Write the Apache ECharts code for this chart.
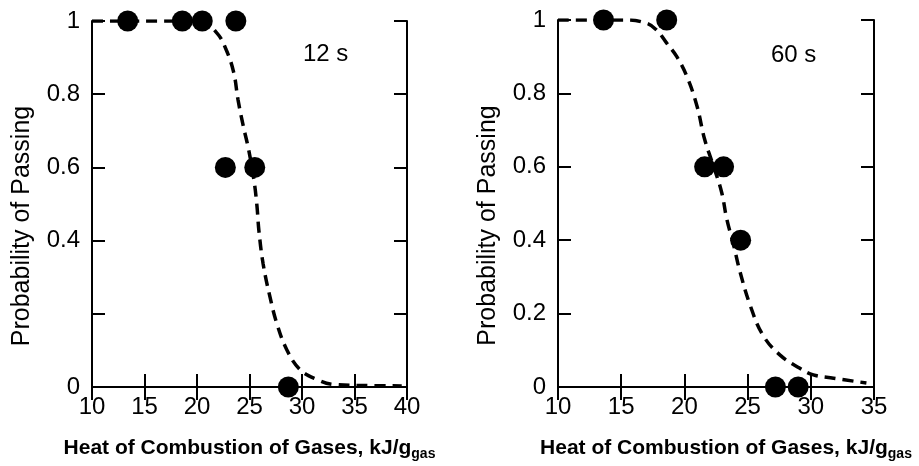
<!DOCTYPE html>
<html>
<head>
<meta charset="utf-8">
<script src="https://cdn.jsdelivr.net/npm/echarts@6/dist/echarts.min.js"></script>
<style>
  html, body { margin: 0; padding: 0; background: #fff; }
  #chart { width: 919px; height: 466px; }
</style>
</head>
<body>
<div id="chart"></div>
<script>
// 12 s exposure: measured points [heat of combustion, probability]
const points12 = [[13.4, 1], [18.6, 1], [20.5, 1], [23.7, 1], [22.7, 0.6], [25.5, 0.6], [28.7, 0]];
// 12 s fitted curve
const curve12 = [
  [10, 1], [15, 1], [20.3, 1], [21.9, 0.967], [22.8, 0.92], [23.5, 0.859], [23.9, 0.786],
  [24.4, 0.714], [24.9, 0.651], [25.4, 0.57], [25.7, 0.498], [25.9, 0.426], [26.3, 0.336],
  [26.95, 0.246], [27.6, 0.174], [28.55, 0.102], [29.8, 0.048], [31.4, 0.021], [33.0, 0.007],
  [36, 0.004], [39.5, 0.003]
];
// 60 s exposure
const points60 = [[13.6, 1], [18.6, 1], [21.6, 0.6], [23.1, 0.6], [24.45, 0.4], [27.2, 0], [29.0, 0]];
const curve60 = [
  [10, 1], [15.4, 1], [17.0, 0.991], [17.8, 0.973], [18.6, 0.937], [19.4, 0.9], [20.2, 0.846],
  [21.0, 0.765], [21.6, 0.675], [22.3, 0.602], [22.95, 0.53], [23.35, 0.458], [23.9, 0.386],
  [24.4, 0.314], [25.2, 0.223], [26.2, 0.142], [27.55, 0.0875], [29.1, 0.0515], [30.2, 0.033],
  [31.8, 0.024], [34.4, 0.011]
];
const panelLabels = ['12 s', '60 s'];
const xRanges = [[10, 40], [10, 35]];
const yTicks12 = ['0', '', '0.4', '0.6', '0.8', '1'];
const yTicks60 = ['0', '0.2', '0.4', '0.6', '0.8', '1'];
const yTitle = 'Probability of Passing';
const xTitleMain = 'Heat of Combustion of Gases, kJ/g';
const xTitleSub = 'gas';

const FONT = '"Liberation Sans", Arial, Helvetica, sans-serif';
const lineStyle = { color: '#000', width: 2 };
const tickStyle = { show: true, inside: true, length: 13, lineStyle: { color: '#000', width: 2 } };

function xAxes(gi, range, shift) {
  return [
    {
      type: 'value', gridIndex: gi, min: range[0], max: range[1], interval: 5,
      axisLine: { show: true, lineStyle }, axisTick: tickStyle, splitLine: { show: false },
      axisLabel: { color: '#000', fontFamily: FONT, fontSize: 24, margin: 8 },
      name: '{a|' + xTitleMain + '}{b|' + xTitleSub + '}',
      nameLocation: 'middle', nameGap: 48,
      nameTextStyle: {
        padding: [0, 0, 0, shift],
        rich: {
          a: { fontFamily: FONT, fontWeight: 'bold', fontSize: 21, color: '#000', lineHeight: 26 },
          b: { fontFamily: FONT, fontWeight: 'bold', fontSize: 14, color: '#000', lineHeight: 14, padding: [12, 0, 0, 0] }
        }
      }
    },
    {
      type: 'value', gridIndex: gi, position: 'top', min: range[0], max: range[1], interval: 5,
      axisLine: { show: true, lineStyle }, axisTick: tickStyle, splitLine: { show: false },
      axisLabel: { show: false }
    }
  ];
}

function yAxes(gi, labels) {
  return [
    {
      type: 'value', gridIndex: gi, min: 0, max: 1, interval: 0.2,
      axisLine: { show: true, lineStyle }, axisTick: tickStyle, splitLine: { show: false },
      axisLabel: {
        color: '#000', fontFamily: FONT, fontSize: 24, margin: 12,
        formatter: (v) => labels[Math.round(v * 5)]
      },
      name: yTitle, nameLocation: 'middle', nameGap: 57,
      nameTextStyle: { fontFamily: FONT, fontSize: 25, color: '#000', lineHeight: 26, padding: [0, 44, 0, 0] }
    },
    {
      type: 'value', gridIndex: gi, position: 'right', min: 0, max: 1, interval: 0.2,
      axisLine: { show: true, lineStyle }, axisTick: tickStyle, splitLine: { show: false },
      axisLabel: { show: false }
    }
  ];
}

function curveSeries(xi, yi, data) {
  return {
    type: 'line', xAxisIndex: xi, yAxisIndex: yi, data, smooth: 0.4, symbol: 'none',
    lineStyle: { color: '#000', width: 3.5, type: [11, 7] }, z: 3, silent: true
  };
}
function pointSeries(xi, yi, data) {
  return {
    type: 'scatter', xAxisIndex: xi, yAxisIndex: yi, data, symbol: 'circle', symbolSize: 21,
    itemStyle: { color: '#000', opacity: 1 }, z: 5, clip: false, silent: true
  };
}

const chart = echarts.init(document.getElementById('chart'), null, { renderer: 'canvas' });
chart.setOption({
  animation: false,
  backgroundColor: '#fff',
  grid: [
    { left: 92, top: 21, width: 315, height: 370, containLabel: false },
    { left: 558, top: 20, width: 316, height: 369, containLabel: false }
  ],
  xAxis: [...xAxes(0, xRanges[0], 0), ...xAxes(1, xRanges[1], 20)],
  yAxis: [...yAxes(0, yTicks12), ...yAxes(1, yTicks60)],
  graphic: [
    { type: 'text', left: 303, top: 42, style: { text: panelLabels[0], font: '24px ' + FONT, fill: '#000' } },
    { type: 'text', left: 771, top: 43, style: { text: panelLabels[1], font: '24px ' + FONT, fill: '#000' } }
  ],
  series: [
    curveSeries(0, 0, curve12),
    pointSeries(0, 0, points12),
    curveSeries(2, 2, curve60),
    pointSeries(2, 2, points60)
  ]
});
</script>
</body>
</html>
